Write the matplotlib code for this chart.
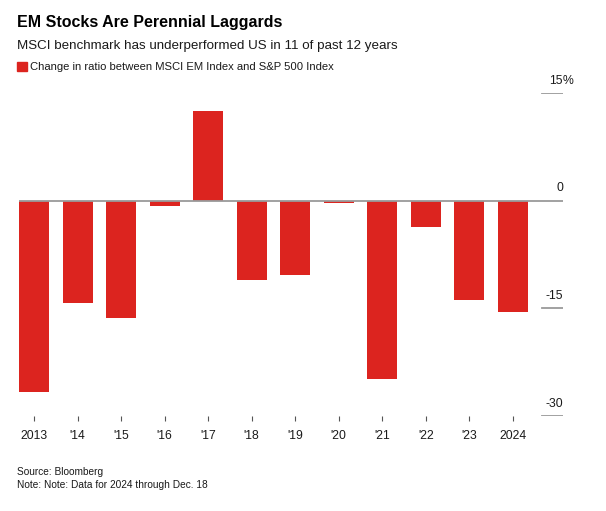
import matplotlib
matplotlib.use("Agg")
import matplotlib.pyplot as plt
from matplotlib.patches import Rectangle
from matplotlib import font_manager

# data
years = ["2013", "'14", "'15", "'16", "'17", "'18", "'19", "'20", "'21", "'22", "'23", "2024"]
change = [-26.7, -14.3, -16.3, -0.8, 12.5, -11.1, -10.4, -0.3, -24.8, -3.6, -13.8, -15.5]
y_ticks = [15, 0, -15, -30]
y_labels = ["15", "0", "-15", "-30"]

RED = "#dc241f"
GRAY = "#9a9a9a"
INK = "#1a1a1a"

names = {f.name for f in font_manager.fontManager.ttflist}
narrow = "Liberation Sans Narrow" if "Liberation Sans Narrow" in names else "Liberation Sans"
plt.rcParams["font.family"] = ["Liberation Sans", "DejaVu Sans"]

W, H = 606, 511
fig = plt.figure(figsize=(W / 100, H / 100), dpi=100)

def px(x, y):
    return x / W, 1 - y / H

ax = fig.add_axes([19 / W, 1 - 416 / H, (563 - 19) / W, (416 - 93) / H])
x = list(range(len(years)))
ax.bar(x, change, width=0.69, color=RED, zorder=2)
ax.axhline(0, color=GRAY, lw=1.3, zorder=3)
ax.set_xlim(-0.345, 12.15)
ax.set_ylim(-30, 15)

for v, lab in zip(y_ticks, y_labels):
    if v != 0:
        ax.axhline(v, xmin=0.961, xmax=1.0, color=GRAY, lw=1.3, zorder=3)
    ax.annotate(lab, xy=(1.0, v), xycoords=("axes fraction", "data"),
                xytext=(0, 4.5), textcoords="offset points",
                ha="right", va="bottom", fontsize=8.8, family=narrow, color=INK)
# percent sign hangs past the tick line
ax.annotate("%", xy=(1.0, 15), xycoords=("axes fraction", "data"),
            xytext=(0, 4.5), textcoords="offset points",
            ha="left", va="bottom", fontsize=8.8, family=narrow, color=INK,
            annotation_clip=False)

ax.set_xticks(x)
ax.set_xticklabels(years, fontsize=8.7, family=narrow, color=INK)
ax.tick_params(axis="x", length=3.8, width=0.8, color="#555555", pad=6)
ax.set_yticks([])
for s in ax.spines.values():
    s.set_visible(False)

# header
fig.text(*px(17, 27), "EM Stocks Are Perennial Laggards", fontsize=11.5,
         fontweight="bold", family=narrow, color="black", va="baseline")
fig.text(*px(17, 48.5), "MSCI benchmark has underperformed US in 11 of past 12 years",
         fontsize=9.6, color=INK, va="baseline")
fig.patches.append(Rectangle(px(17, 71.5), 10 / W, 9 / H, transform=fig.transFigure,
                             color=RED, figure=fig))
fig.text(*px(30, 70.5), "Change in ratio between MSCI EM Index and S&P 500 Index",
         fontsize=8.1, family=narrow, color=INK, va="baseline")

# footer
fig.text(*px(17, 475), "Source: Bloomberg", fontsize=7.3, family=narrow,
         color=INK, va="baseline")
fig.text(*px(17, 487.5), "Note: Note: Data for 2024 through Dec. 18", fontsize=7.3,
         family=narrow, color=INK, va="baseline")

fig.savefig("out.png", dpi=100)
